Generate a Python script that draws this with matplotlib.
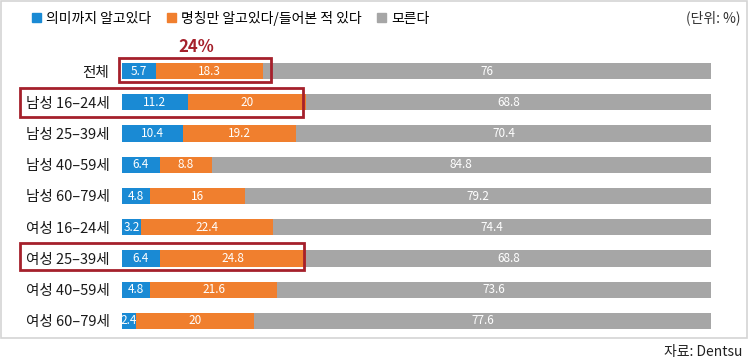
import matplotlib.pyplot as plt
from matplotlib.patches import Rectangle, Patch

plt.rcParams['font.family'] = ['Noto Sans CJK KR', 'DejaVu Sans']

categories = ['전체', '남성 16–24세', '남성 25–39세', '남성 40–59세', '남성 60–79세',
              '여성 16–24세', '여성 25–39세', '여성 40–59세', '여성 60–79세']
know_meaning = [5.7, 11.2, 10.4, 6.4, 4.8, 3.2, 6.4, 4.8, 2.4]
heard_name = [18.3, 20, 19.2, 8.8, 16, 22.4, 24.8, 21.6, 20]
dont_know = [76, 68.8, 70.4, 84.8, 79.2, 74.4, 68.8, 73.6, 77.6]
series_names = ['의미까지 알고있다', '명칭만 알고있다/들어본 적 있다', '모른다']
colors = ['#1a8ad4', '#f07f2e', '#a6a6a6']
box_color = '#a5202b'

W, H = 750, 362
fig = plt.figure(figsize=(W / 100, H / 100), dpi=100)


def fx(px):
    return px / W


def fy(py):
    return 1 - py / H


# outer frame
fig.add_artist(Rectangle((fx(1), fy(338)), fx(746), 337 / H, transform=fig.transFigure,
                         fill=False, edgecolor='#d4d4d4', linewidth=1.2))

row_top, row_bot = 55.4, 336.6
ax = fig.add_axes([fx(122), fy(row_bot), fx(589), (row_bot - row_top) / H])
ypos = list(range(len(categories)))
left = [0] * len(categories)
for vals, col in zip([know_meaning, heard_name, dont_know], colors):
    bars = ax.barh(ypos, vals, left=left, height=0.52, color=col)
    for b, v in zip(bars, vals):
        ax.text(b.get_x() + b.get_width() / 2, b.get_y() + b.get_height() / 2, f'{v:g}',
                ha='center', va='center', color='white', fontsize=8.5)
    left = [l + v for l, v in zip(left, vals)]

ax.set_xlim(0, 100)
ax.set_ylim(len(categories) - 0.5, -0.5)
ax.set_yticks(ypos)
ax.set_yticklabels(categories, fontsize=10.5, color='#1a1a1a')
ax.tick_params(axis='y', length=0, pad=9)
ax.set_xticks([])
for s in ax.spines.values():
    s.set_visible(False)
ax.patch.set_alpha(0)

# highlight boxes
for x0, y0, x1, y1 in [(119, 58, 271, 82), (20, 88, 303, 117), (20, 243, 304, 270)]:
    fig.add_artist(Rectangle((fx(x0), fy(y1)), fx(x1 - x0), (y1 - y0) / H,
                             transform=fig.transFigure, fill=False,
                             edgecolor=box_color, linewidth=2))
fig.text(fx(196), fy(47), '24%', color=box_color, fontsize=12, fontweight='bold',
         ha='center', va='center')

handles = [Patch(color=c) for c in colors]
fig.legend(handles, series_names, loc='center left', bbox_to_anchor=(fx(26), fy(18)),
           ncol=3, frameon=False, fontsize=10, handlelength=0.65, handleheight=0.65,
           handletextpad=0.4, columnspacing=1.1, borderaxespad=0)

fig.text(fx(740), fy(18), '(단위: %)', ha='right', va='center', fontsize=10, color='#333333')
fig.text(fx(742), fy(352), '자료: Dentsu', ha='right', va='center', fontsize=10, color='#222222')

fig.savefig('out.png', dpi=100)
